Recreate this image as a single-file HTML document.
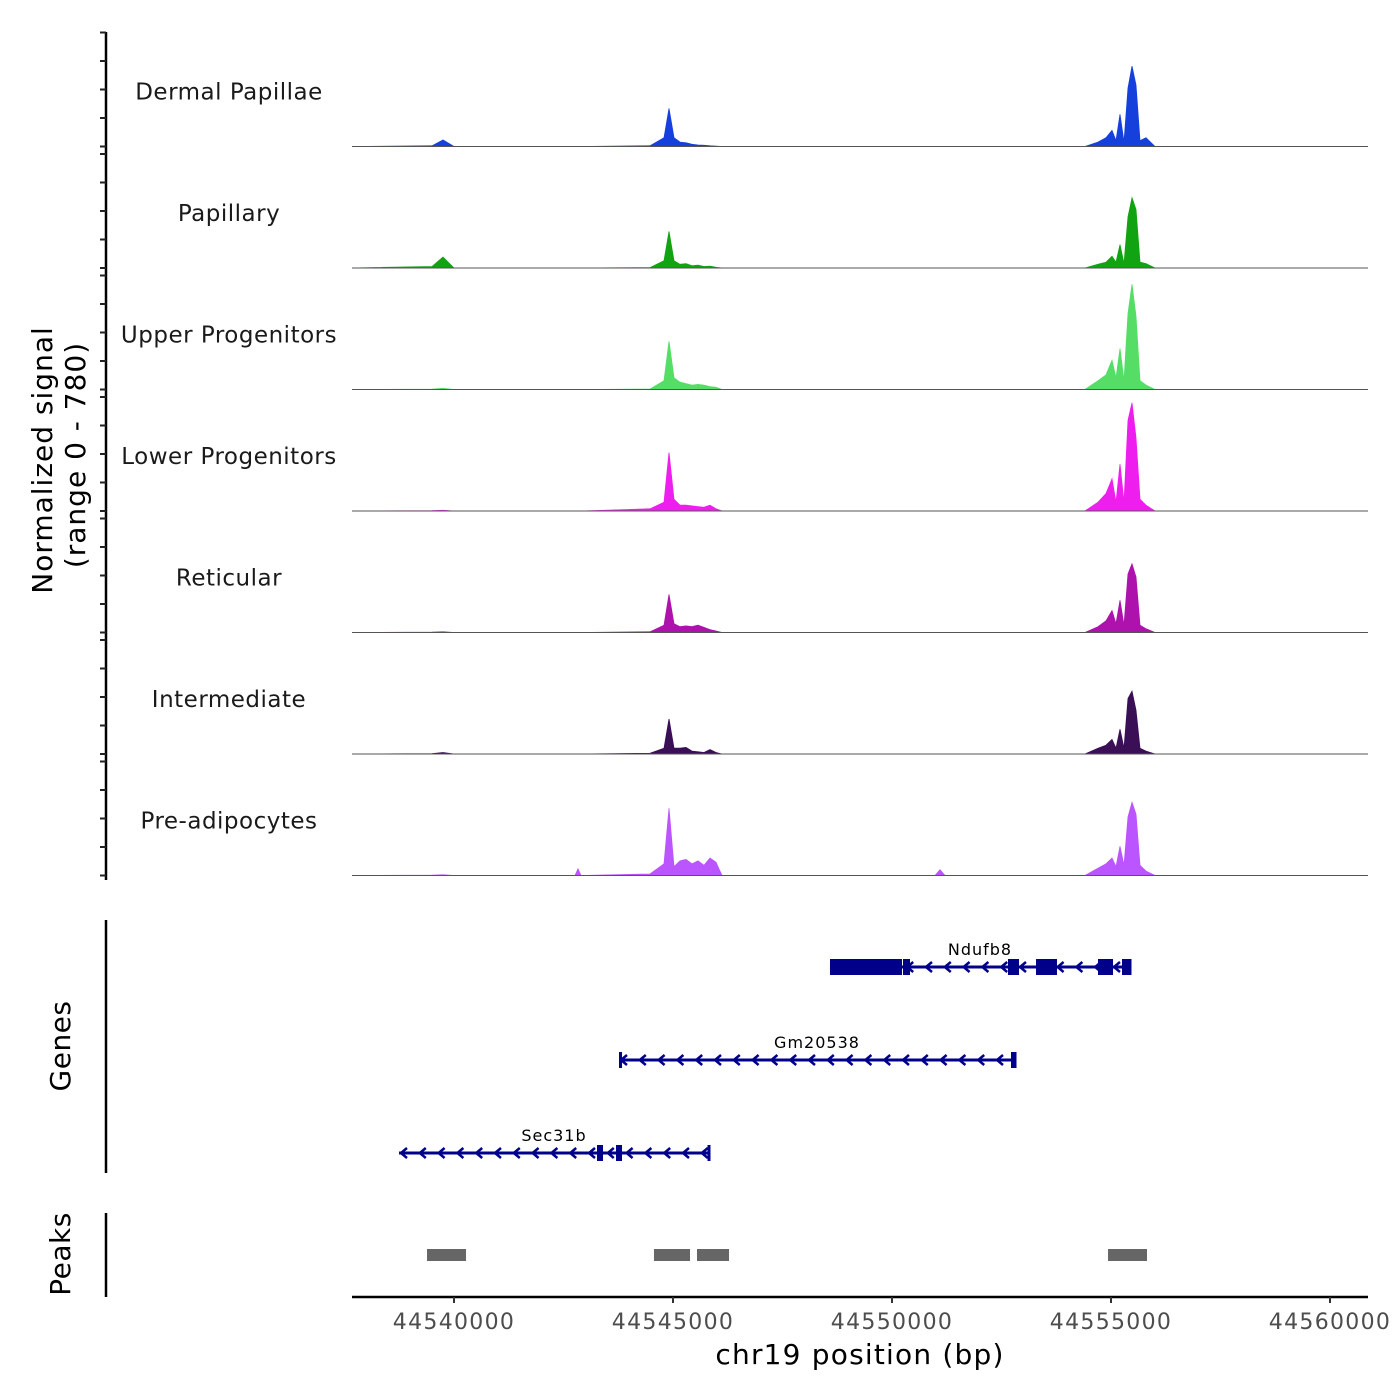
<!DOCTYPE html>
<html><head><meta charset="utf-8">
<style>
html,body{margin:0;padding:0;background:#fff;}
svg{display:block;font-family:"DejaVu Sans","Liberation Sans",sans-serif;}
</style></head>
<body>
<svg id="chart" width="1400" height="1400" viewBox="0 0 1400 1400" xmlns="http://www.w3.org/2000/svg">
  <rect x="0" y="0" width="1400" height="1400" fill="#fff"/>
  <g id="tracks"></g>
  <g id="leftaxis"></g>
  <text transform="translate(52,460) rotate(-90)" text-anchor="middle" font-size="28" letter-spacing="1" fill="#000">Normalized signal</text>
  <text transform="translate(85,455) rotate(-90)" text-anchor="middle" font-size="28" letter-spacing="1" fill="#000">(range 0 - 780)</text>
  <g id="genes"></g>
  <line x1="106" y1="920" x2="106" y2="1173" stroke="#000" stroke-width="2.5"/>
  <text transform="translate(70,1046) rotate(-90)" text-anchor="middle" font-size="28" letter-spacing="0.5" fill="#000">Genes</text>
  <g id="peaks"></g>
  <line x1="106" y1="1213" x2="106" y2="1297" stroke="#000" stroke-width="2.5"/>
  <text transform="translate(70,1254) rotate(-90)" text-anchor="middle" font-size="28" letter-spacing="0.5" fill="#000">Peaks</text>
  <g id="xaxis"></g>
  <text x="860" y="1364" text-anchor="middle" font-size="28" letter-spacing="1.2" fill="#000">chr19 position (bp)</text>
</svg>
<script>
// ---- data ----
const trackNames = ["Dermal Papillae","Papillary","Upper Progenitors","Lower Progenitors","Reticular","Intermediate","Pre-adipocytes"];
const trackColors = ["#1640dc","#12a312","#55dd66","#ee1fee","#ad12ad","#3a0f55","#bb55ff"];
const positions = [44537671,44539498,44539749,44540000,44542763,44542831,44542900,44544475,44544795,44544909,44545023,44545160,44545297,44545434,44545571,44545708,44545845,44545982,44546119,44550982,44551096,44551210,44554406,44554703,44554886,44555023,44555114,44555205,44555297,44555388,44555479,44555571,44555662,44555799,44556005,44560868];
const sigDP  = [0,5,45,0,0,0,0,5,60,260,60,30,25,15,10,8,5,3,0,0,0,0,0,30,60,110,40,220,30,400,550,420,40,60,0,0];
const sigPap = [0,10,75,0,0,0,0,3,50,250,50,25,30,15,20,10,12,5,0,0,0,0,0,25,40,80,40,160,30,350,480,400,40,30,0,0];
const sigUP  = [0,2,8,0,0,0,0,3,60,330,80,50,40,30,35,30,20,15,0,0,0,0,0,60,100,200,80,280,60,520,720,500,60,30,0,0];
const sigLP  = [0,2,5,0,0,0,0,15,60,400,80,40,40,35,30,25,40,15,0,0,0,0,0,60,120,220,60,320,60,620,740,500,80,40,0,0];
const sigRet = [0,2,5,0,0,0,0,5,50,260,60,40,45,40,50,35,20,10,0,0,0,0,0,40,80,150,60,220,50,400,470,380,50,25,0,0];
const sigInt = [0,3,10,0,0,0,0,5,40,240,40,40,45,20,15,10,30,10,0,0,0,0,0,40,60,100,40,170,40,380,430,300,40,20,0,0];
const sigPA  = [0,3,5,0,0,45,0,10,80,460,60,100,110,80,100,70,120,90,0,0,40,0,0,50,80,120,60,200,70,400,500,420,70,30,0,0];
const signals = [sigDP,sigPap,sigUP,sigLP,sigRet,sigInt,sigPA];
const yMax = 780;
const xTicks = [44540000,44545000,44550000,44555000,44560000];
const geneNames = ["Ndufb8","Gm20538","Sec31b"];
const geneStarts = [44548584,44543767,44538744];
const geneEnds = [44555434,44552808,44545822];
const exonsNdufb8 = [[44548584,44550228],[44550251,44550411],[44552648,44552900],[44553288,44553767],[44554703,44555046],[44555251,44555434]];
const exonsGm20538 = [[44543767,44543836],[44552717,44552808]];
const exonsSec31b = [[44543265,44543402],[44543699,44543836]];
const geneExons = [exonsNdufb8,exonsGm20538,exonsSec31b];
const peakStarts = [44539384,44544566,44545548,44554932];
const peakEnds = [44540274,44545388,44546279,44555822];

// ---- scales ----
const X0 = 454, PXBP = 0.0438, XREF = 44540000;
const xs = bp => X0 + (bp - XREF) * PXBP;
const xMinPx = 352, xMaxPx = 1368;
const baseY0 = 146.5, trackStep = 121.5, trackH = 114;
const NS = "http://www.w3.org/2000/svg";
function mk(tag, attrs, parent){const e=document.createElementNS(NS,tag);for(const k in attrs)e.setAttribute(k,attrs[k]);parent.appendChild(e);return e;}

const tracksG = document.getElementById('tracks');
const leftG = document.getElementById('leftaxis');
const axLine = mk('line',{x1:106,y1:32,x2:106,y2:880,stroke:'#000','stroke-width':2.5},leftG);



signals.forEach((sig,i)=>{
  const base = baseY0 + i*trackStep;
  const ys = v => base - v / yMax * trackH;
  let d = `M${xs(positions[0]).toFixed(1)},${base}`;
  positions.forEach((p,j)=>{ d += ` L${xs(p).toFixed(1)},${ys(sig[j]).toFixed(1)}`; });
  d += ` L${xs(positions[positions.length-1]).toFixed(1)},${base} Z`;
  const area = mk('path',{d:d,fill:trackColors[i],stroke:trackColors[i],'stroke-width':0.8},tracksG);
  
  
  const bl = mk('line',{x1:xMinPx,y1:base,x2:xMaxPx,y2:base,stroke:'#555','stroke-width':1},tracksG);
  
  
  const lab = mk('text',{x:229,y:base-47,'text-anchor':'middle','font-size':23,fill:'#1a1a1a','letter-spacing':'0.5'},tracksG);
  lab.textContent = trackNames[i];
  
  
  for(let k=0;k<5;k++){
    const ty = base - k*trackH/4;
    const t = mk('line',{x1:100,y1:ty,x2:106,y2:ty,stroke:'#222','stroke-width':2},leftG);
    
    
  }
});

// genes
const genesG = document.getElementById('genes');
const geneY = [967,1060,1153];
const gc = '#00008b';
geneNames.forEach((g,i)=>{
  const y = geneY[i], x1 = xs(geneStarts[i]), x2 = xs(geneEnds[i]);
  const ln = mk('line',{x1:x1,y1:y,x2:x2,y2:y,stroke:gc,'stroke-width':3},genesG);
  
  
  for(let x=x1+2;x<x2-6;x+=18.8){
    const ch = mk('path',{d:`M${x+6},${y-5} L${x},${y} L${x+6},${y+5}`,fill:'none',stroke:gc,'stroke-width':2.5},genesG);
    
    
  }
  [x2].forEach(ex=>{
    const e = mk('line',{x1:ex,y1:y-8,x2:ex,y2:y+8,stroke:gc,'stroke-width':3},genesG);
    
    
  });
  geneExons[i].forEach(ex=>{
    const a=xs(ex[0]), b=xs(ex[1]);
    const r = mk('rect',{x:a,y:y-8,width:Math.max(b-a,3),height:16,fill:gc},genesG);
    
    
  });
  const t = mk('text',{x:(x1+x2)/2,y:y-12,'text-anchor':'middle','font-size':16,fill:'#000','letter-spacing':'1'},genesG);
  t.textContent = g;
  
  
});

// peaks
const peaksG = document.getElementById('peaks');
peakStarts.forEach((s,i)=>{
  const r = mk('rect',{x:xs(s),y:1249,width:xs(peakEnds[i])-xs(s),height:12,fill:'#666'},peaksG);
  
  
});

// x axis
const xaG = document.getElementById('xaxis');
const xl = mk('line',{x1:xMinPx,y1:1297,x2:xMaxPx,y2:1297,stroke:'#000','stroke-width':2.5},xaG);


xTicks.forEach(v=>{
  const x = xs(v);
  const t = mk('line',{x1:x,y1:1297,x2:x,y2:1303,stroke:'#333','stroke-width':2},xaG);
  
  
  const l = mk('text',{x:x,y:1329,'text-anchor':'middle','font-size':22,fill:'#4d4d4d','letter-spacing':'1.3'},xaG);
  l.textContent = v;
  
  
});
</script>
</body></html>
